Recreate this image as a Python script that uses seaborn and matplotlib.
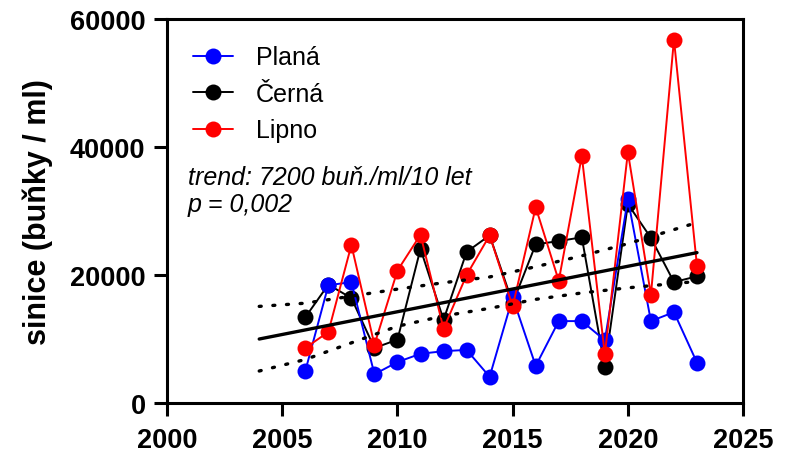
import matplotlib
matplotlib.use("Agg")
import matplotlib.pyplot as plt
import pandas as pd
import seaborn as sns

# ======== data ============================================
years = list(range(2006, 2024))
plana = [5000, 18400, 18900, 4500, 6400, 7700, 8100, 8300, 4100, 16500,
         5800, 12800, 12800, 9800, 31900, 12800, 14200, 6300]
cerna = [13400, 18500, 16400, 8600, 9900, 24100, 13000, 23600, 26200, 15600,
         24800, 25300, 25900, 5600, 31100, 25800, 18900, 19800]
lipno = [8600, 11100, 24700, 9100, 20700, 26300, 11600, 20000, 26200, 15100,
         30600, 19100, 38600, 7600, 39200, 16900, 56800, 21400]

trend_years = [2004, 2023]
trend_vals = [10000, 23500]

band_years = [2004, 2006, 2008, 2010, 2012, 2014, 2016, 2018, 2020, 2023]
band_upper = [15100, 15600, 16700, 17800, 18800, 19700, 21300, 23000, 24900, 28200]
band_lower = [5000, 6800, 9400, 12000, 13600, 14800, 16200, 17200, 18000, 19000]

x_ticks = [2000, 2005, 2010, 2015, 2020, 2025]
y_ticks = [0, 20000, 40000, 60000]

series = [("Planá", plana, "#0000ff", 3),
          ("Černá", cerna, "#000000", 2),
          ("Lipno", lipno, "#ff0000", 4)]

# ======== plot ==========================================
sns.set_style("ticks")
plt.rcParams["font.family"] = ["Liberation Sans", "DejaVu Sans"]
plt.rcParams.update({"text.color": "black", "axes.labelcolor": "black",
                     "xtick.color": "black", "ytick.color": "black",
                     "axes.edgecolor": "black"})

fig = plt.figure(figsize=(7.88, 4.56), dpi=100)
ax = fig.add_axes([0.212, 0.114, 0.731, 0.842])

for name, vals, color, z in series:
    df = pd.DataFrame({"year": years, "value": vals})
    sns.lineplot(data=df, x="year", y="value", ax=ax, color=color, label=name,
                 marker="o", markersize=11.5, markeredgewidth=0, linewidth=1.4,
                 zorder=z)

# trend and confidence band
band = pd.DataFrame({"year": band_years, "upper": band_upper, "lower": band_lower})
sns.lineplot(data=band, x="year", y="upper", ax=ax, color="black",
             linestyle=(0, (0.6, 3.5)), linewidth=2.4, dash_capstyle="round", zorder=5)
sns.lineplot(data=band, x="year", y="lower", ax=ax, color="black",
             linestyle=(0, (0.6, 3.5)), linewidth=2.4, dash_capstyle="round", zorder=5)
trend = pd.DataFrame({"year": trend_years, "value": trend_vals})
sns.lineplot(data=trend, x="year", y="value", ax=ax, color="black",
             linewidth=2.4, zorder=5)

ax.set_xlim(2000, 2025)
ax.set_ylim(0, 60000)
ax.set_xticks(x_ticks)
ax.set_yticks(y_ticks)
ax.set_xlabel("")
ax.set_ylabel("sinice (buňky / ml)", fontsize=22, fontweight="bold", labelpad=12)

for lbl in ax.get_xticklabels() + ax.get_yticklabels():
    lbl.set_fontweight("bold")
    lbl.set_fontsize(19.5)
ax.tick_params(axis="both", width=2.2, length=9.5, direction="out", pad=6)
ax.tick_params(axis="x", pad=8)
for sp in ax.spines.values():
    sp.set_linewidth(2.2)

ax.text(0.036, 0.62, "trend: 7200 buň./ml/10 let\np = 0,002", transform=ax.transAxes,
        fontsize=18, fontstyle="italic", va="top", linespacing=1.15)

handles, labels = ax.get_legend_handles_labels()
ax.legend(handles[:3], labels[:3], loc="upper left", frameon=False, fontsize=18,
          bbox_to_anchor=(0.006, 0.99), handlelength=1.6, labelspacing=0.5,
          handletextpad=0.9)

plt.savefig("out.png", dpi=100)
plt.close()
